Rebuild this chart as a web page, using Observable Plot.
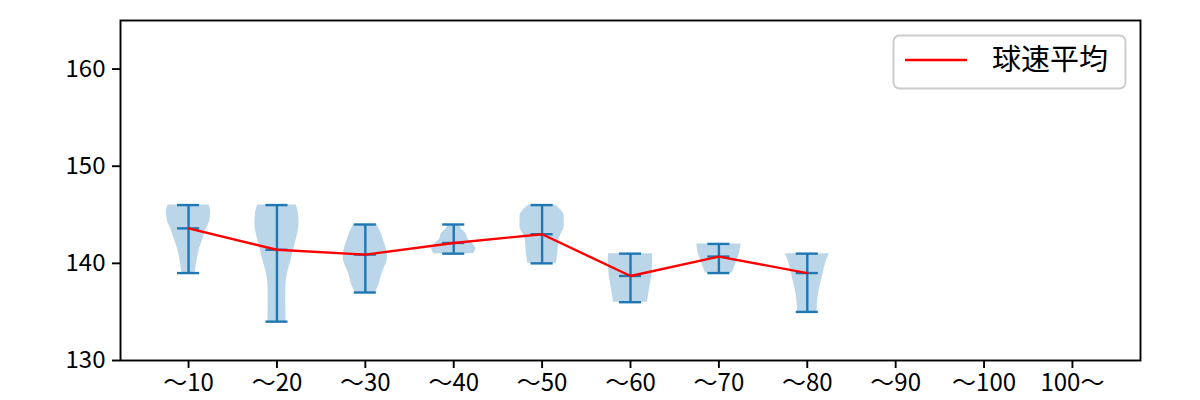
<!DOCTYPE html>
<html>
<head>
<meta charset="utf-8">
<script src="https://cdn.jsdelivr.net/npm/d3@7"></script>
<script src="https://cdn.jsdelivr.net/npm/@observablehq/plot@0.6"></script>
<style>
  html, body { margin: 0; padding: 0; background: #fff; }
  #chart { width: 1200px; height: 400px; }
</style>
</head>
<body>
<div id="chart"></div>
<script>
// ---- data ----
const categories = ["～10", "～20", "～30", "～40", "～50", "～60", "～70", "～80", "～90", "～100", "100～"];
const mins  = [139, 134, 137, 141, 140, 136, 139, 135];
const maxs  = [146, 146, 144, 144, 146, 141, 142, 141];
const means = [143.6, 141.4, 140.9, 142.1, 143.0, 138.7, 140.7, 139.0];
// violin outline: speed levels and relative half-widths (1 = widest)
const violinLevels = [
  [139, 139.5, 140.5, 141.5, 142.5, 143.5, 144.5, 145.3, 146],
  [134, 136, 137.2, 138.9, 140, 141.3, 142.5, 144.1, 145.2, 146],
  [137, 137.7, 138.9, 140.6, 141.5, 142.4, 143.3, 144],
  [141, 141.5, 142.0, 142.5, 143.05, 143.5, 144],
  [140, 141.2, 142.4, 143.2, 143.7, 144.9, 145.5, 146],
  [136, 137.2, 138.9, 140, 141],
  [139, 140.0, 141.2, 142],
  [135, 136.9, 138.6, 140.3, 141]
];
const violinWidths = [
  [0.3, 0.33, 0.4, 0.5, 0.65, 0.8, 0.97, 1.0, 0.93],
  [0.41, 0.4, 0.4, 0.47, 0.6, 0.74, 0.88, 1.0, 0.97, 0.87],
  [0.45, 0.6, 0.75, 1.0, 0.95, 0.82, 0.68, 0.52],
  [0.9, 1.0, 0.87, 0.64, 0.56, 0.36, 0.26],
  [0.65, 0.72, 0.76, 0.9, 1.0, 1.0, 0.85, 0.6],
  [0.77, 0.85, 0.97, 1.0, 1.0],
  [0.61, 0.77, 0.95, 1.0],
  [0.44, 0.51, 0.68, 0.87, 1.0]
];
const yTicks = [130, 140, 150, 160];
const legendLabel = "球速平均";

// ---- tables ----
const halfMax = 0.25, capHalf = 0.125;
const violinRows = [];
violinLevels.forEach((lv, i) => lv.forEach((y, j) => violinRows.push({pos: i + 1, y, half: violinWidths[i][j] * halfMax})));
const stats = means.map((m, i) => ({pos: i + 1, min: mins[i], max: maxs[i], mean: m}));
const capRows = stats.flatMap(d => [d.min, d.max, d.mean].map(v => ({pos: d.pos, v})));

const C0 = "#1f77b4";
const lw = 2.4;

const plot = Plot.plot({
  width: 1200,
  height: 400,
  marginLeft: 120,
  marginRight: 60,
  marginTop: 20,
  marginBottom: 40,
  style: {fontFamily: "'Noto Sans CJK JP', 'Noto Sans', sans-serif", fontSize: "24px", color: "black", background: "white"},
  x: {type: "linear", domain: [0.23, 11.77]},
  y: {domain: [130, 165]},
  marks: [
    Plot.areaX(violinRows, {y: "y", x1: d => d.pos - d.half, x2: d => d.pos + d.half, z: "pos", fill: C0, fillOpacity: 0.3, curve: "monotone-y"}),
    Plot.ruleX(stats, {x: "pos", y1: "min", y2: "max", stroke: C0, strokeWidth: lw}),
    Plot.ruleY(capRows, {y: "v", x1: d => d.pos - capHalf, x2: d => d.pos + capHalf, stroke: C0, strokeWidth: lw}),
    Plot.line(stats, {x: "pos", y: "mean", stroke: "red", strokeWidth: lw}),
    Plot.axisX({ticks: d3.range(1, categories.length + 1), tickFormat: d => categories[d - 1], tickSize: 8, tickPadding: 5, strokeWidth: 1.9, label: null, fontSize: 24}),
    Plot.axisY({ticks: yTicks, tickSize: 8, tickPadding: 7, strokeWidth: 1.9, label: null, fontSize: 24}),
    Plot.frame({stroke: "black", strokeWidth: 1.9})
  ]
});

document.getElementById("chart").appendChild(plot);

// ---- legend (inside the axes, upper right) ----
const svg = d3.select(plot);
const lg = svg.append("g").attr("class", "legend").attr("text-anchor", "start");
lg.append("rect").attr("x", 893.5).attr("y", 35.5).attr("width", 232).attr("height", 53)
  .attr("rx", 6).attr("ry", 6).attr("fill", "white").attr("fill-opacity", 0.8)
  .attr("stroke", "#cccccc").attr("stroke-width", 1.9);
lg.append("line").attr("x1", 905).attr("x2", 967).attr("y1", 60).attr("y2", 60)
  .attr("stroke", "red").attr("stroke-width", lw);
lg.append("text").attr("x", 992).attr("y", 60).attr("dy", "0.36em")
  .attr("text-anchor", "start")
  .attr("font-size", 29).attr("fill", "black")
  .attr("font-family", "'Noto Sans CJK JP', sans-serif").text(legendLabel);
</script>
</body>
</html>
